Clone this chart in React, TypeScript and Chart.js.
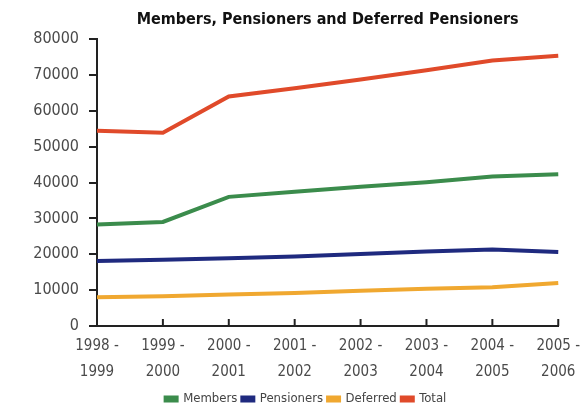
import React, { useEffect, useRef } from "react";
import { Chart, registerables } from "chart.js";

Chart.register(...registerables);

const categories: string[][] = [
  ["1998 -", "1999"],
  ["1999 -", "2000"],
  ["2000 -", "2001"],
  ["2001 -", "2002"],
  ["2002 -", "2003"],
  ["2003 -", "2004"],
  ["2004 -", "2005"],
  ["2005 -", "2006"],
];
const members = [28300, 29000, 36000, 37400, 38800, 40100, 41700, 42300];
const pensioners = [18100, 18500, 18900, 19400, 20100, 20800, 21300, 20600];
const deferred = [8000, 8300, 8800, 9200, 9800, 10400, 10800, 12000];
const total = [54400, 53900, 64000, 66300, 68700, 71300, 74000, 75300];

const titleText = "Members, Pensioners and Deferred Pensioners";
const FONT = "'DejaVu Sans Condensed', 'DejaVu Sans', sans-serif";

const innerTicks = {
  id: "innerTicks",
  afterLayout(chart: any) {
    // let y tick labels extend left of the axis box without being clipped
    const y = chart.scales.y;
    y.left = 0;
  },
  afterDraw(chart: any) {
    const x = chart.scales.x;
    const { ctx } = chart;
    const bottom = chart.chartArea.bottom;
    ctx.save();
    ctx.strokeStyle = "#222";
    ctx.lineWidth = 2;
    for (let i = 1; i < x.ticks.length; i++) {
      const px = x.getPixelForTick(i);
      ctx.beginPath();
      ctx.moveTo(px, bottom);
      ctx.lineTo(px, bottom - 7);
      ctx.stroke();
    }
    ctx.restore();
  },
};

export default function App() {
  const ref = useRef<HTMLCanvasElement | null>(null);
  useEffect(() => {
    if (!ref.current) return;
    const mk = (label: string, data: number[], color: string) => ({
      label,
      data,
      borderColor: color,
      backgroundColor: color,
      borderWidth: 4,
      pointRadius: 0,
      tension: 0,
      fill: false,
    });
    const chart = new Chart(ref.current, {
      type: "line",
      data: {
        labels: categories,
        datasets: [
          mk("Members", members, "#3b8c4c"),
          mk("Pensioners", pensioners, "#1f2a7f"),
          mk("Deferred", deferred, "#f0a830"),
          mk("Total", total, "#e04a2a"),
        ],
      },
      options: {
        responsive: false,
        animation: false,
        layout: { padding: { left: 53, right: 28, top: 0, bottom: -5.5 } },
        plugins: {
          title: {
            display: true,
            text: titleText,
            fullSize: false,
            color: "#111",
            font: { family: FONT, size: 16, weight: "bold", lineHeight: 1.2 },
            padding: { top: 10, bottom: 9.8 },
          },
          legend: {
            position: "bottom",
            labels: {
              boxWidth: 11,
              boxHeight: 3,
              padding: 5,
              color: "#444",
              font: { family: FONT, size: 13 },
            },
          },
          tooltip: { enabled: false },
        },
        scales: {
          x: {
            offset: false,
            border: { color: "#222", width: 2 },
            grid: { drawOnChartArea: false, drawTicks: false },
            ticks: {
              padding: 7,
              color: "#4a4a4a",
              maxRotation: 0,
              autoSkip: false,
              font: { family: FONT, size: 15, lineHeight: 1.73 },
            },
            afterFit: (s: any) => {
              s.height = 61.5;
            },
          },
          y: {
            min: 0,
            max: 80000,
            border: { color: "#222", width: 2 },
            grid: { drawOnChartArea: false, tickLength: 8, color: "#222", lineWidth: 2 },
            ticks: {
              stepSize: 10000,
              padding: 10,
              color: "#4a4a4a",
              font: { family: FONT, size: 16 },
              callback: (v: any) => String(v),
            },
            afterFit: (s: any) => {
              s.width = 44;
            },
          },
        },
      },
      plugins: [innerTicks],
    });
    return () => chart.destroy();
  }, []);
  return (
    <div style={{ position: "fixed", left: 0, top: 0, width: 587, height: 410, background: "#fff" }}>
      <canvas ref={ref} width={587} height={410} style={{ display: "block" }} />
    </div>
  );
}
